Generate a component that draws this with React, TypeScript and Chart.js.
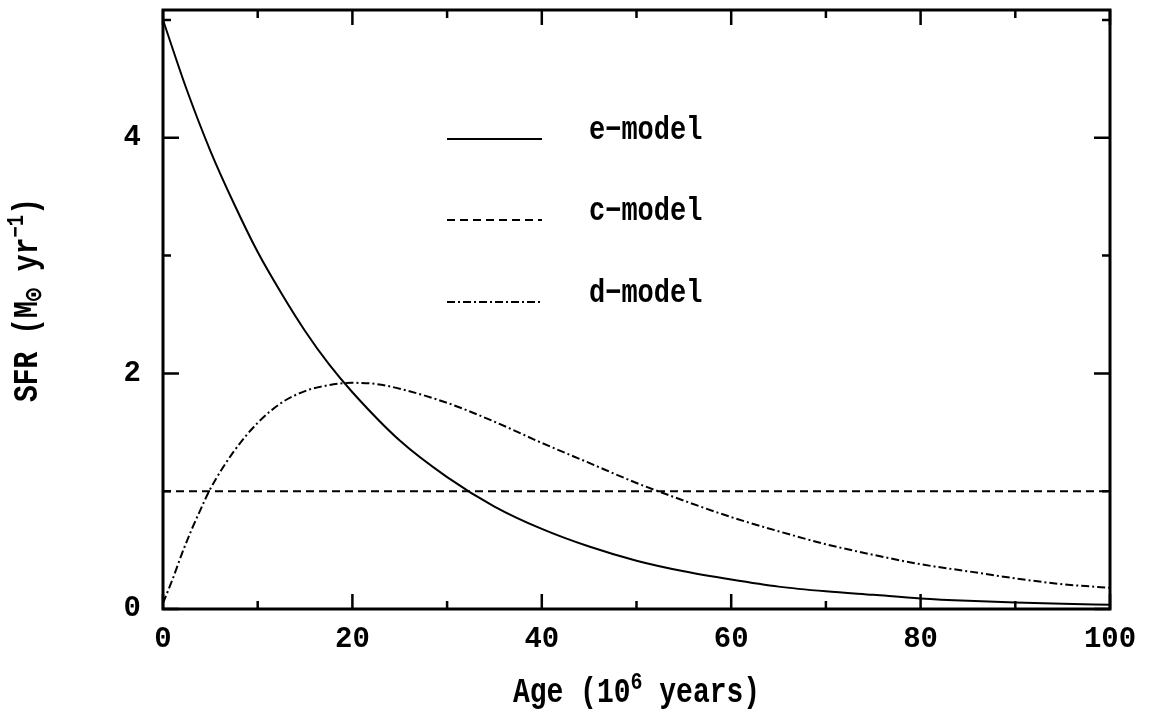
import React, { useEffect, useRef } from "react";
import { Chart, registerables } from "chart.js";

Chart.register(...registerables);

// ---- data ----
const eAges = [0, 2.5, 5, 7.5, 10, 12.5, 15, 17.5, 20, 25, 30, 35, 40, 45, 50, 55, 60, 65, 70, 75, 80, 85, 90, 95, 100];
const eModel = [5.0, 4.41, 3.89, 3.44, 3.03, 2.68, 2.36, 2.08, 1.84, 1.43, 1.12, 0.87, 0.68, 0.53, 0.41, 0.32, 0.25, 0.19, 0.15, 0.12, 0.09, 0.07, 0.056, 0.045, 0.036];

const cAges = [0, 100];
const cModel = [1.0, 1.0];

const dAges = [0, 1, 2, 3, 4, 5, 7.5, 10, 12.5, 15, 17.5, 20, 22.5, 25, 30, 35, 40, 45, 50, 55, 60, 65, 70, 75, 80, 85, 90, 95, 100];
const dModel = [0.05, 0.25, 0.47, 0.67, 0.85, 1.02, 1.34, 1.58, 1.75, 1.85, 1.90, 1.92, 1.91, 1.87, 1.75, 1.59, 1.41, 1.24, 1.07, 0.92, 0.78, 0.66, 0.55, 0.46, 0.38, 0.32, 0.26, 0.21, 0.18];

const seriesNames = ["e\u2212model", "c\u2212model", "d\u2212model"];

const xMajorTicks = [0, 20, 40, 60, 80, 100];
const xMinorTicks = [10, 30, 50, 70, 90];
const yMajorTicks = [0, 2, 4];
const yMinorTicks = [1, 3, 5];

const FONT = '"Liberation Mono", "DejaVu Sans Mono", "DejaVu Sans", monospace';
const STRETCH = 1.22;

type Part = { text: string; size: number; dy: number };

function drawRich(ctx: CanvasRenderingContext2D, parts: Part[], cx: number, baseline: number) {
  let total = 0;
  const widths: number[] = [];
  for (const p of parts) {
    ctx.font = `bold ${p.size}px ${FONT}`;
    const w = ctx.measureText(p.text).width;
    widths.push(w);
    total += w;
  }
  let x = cx - total / 2;
  ctx.save();
  ctx.translate(0, baseline);
  ctx.scale(1, STRETCH);
  ctx.textAlign = "left";
  ctx.textBaseline = "alphabetic";
  parts.forEach((p, i) => {
    ctx.font = `bold ${p.size}px ${FONT}`;
    ctx.fillText(p.text, x, p.dy / STRETCH);
    x += widths[i];
  });
  ctx.restore();
}

const framePlugin = {
  id: "frameAndDecor",
  afterDatasetsDraw(chart: any) {
    const { ctx, chartArea } = chart;
    const xs = chart.scales.x;
    const ys = chart.scales.y;
    const { left, right, top, bottom } = chartArea;
    ctx.save();
    ctx.strokeStyle = "#000";
    ctx.fillStyle = "#000";
    ctx.setLineDash([]);
    // frame
    ctx.lineWidth = 3;
    ctx.strokeRect(left, top, right - left, bottom - top);
    // ticks
    ctx.lineWidth = 2.5;
    const xt = (vals: number[], len: number) => {
      for (const v of vals) {
        const px = xs.getPixelForValue(v);
        ctx.beginPath();
        ctx.moveTo(px, bottom);
        ctx.lineTo(px, bottom - len);
        ctx.moveTo(px, top);
        ctx.lineTo(px, top + len);
        ctx.stroke();
      }
    };
    const yt = (vals: number[], len: number) => {
      for (const v of vals) {
        const py = ys.getPixelForValue(v);
        ctx.beginPath();
        ctx.moveTo(left, py);
        ctx.lineTo(left + len, py);
        ctx.moveTo(right, py);
        ctx.lineTo(right - len, py);
        ctx.stroke();
      }
    };
    xt(xMajorTicks, 15);
    xt(xMinorTicks, 8);
    yt(yMajorTicks, 16);
    yt(yMinorTicks, 8);

    // legend
    const legY = [139, 220, 302];
    chart.data.datasets.forEach((ds: any, i: number) => {
      ctx.lineWidth = 2;
      ctx.setLineDash(ds.borderDash || []);
      ctx.beginPath();
      ctx.moveTo(447, legY[i]);
      ctx.lineTo(542, legY[i]);
      ctx.stroke();
      ctx.setLineDash([]);
      ctx.save();
      ctx.translate(589, legY[i]);
      ctx.scale(1, STRETCH);
      ctx.font = `bold 27px ${FONT}`;
      ctx.textAlign = "left";
      ctx.textBaseline = "alphabetic";
      ctx.fillText(ds.label, 0, 0);
      ctx.restore();
    });

    // axis titles
    drawRich(
      ctx,
      [
        { text: "Age (10", size: 28, dy: 0 },
        { text: "6", size: 20, dy: -13 },
        { text: " years)", size: 28, dy: 0 },
      ],
      (left + right) / 2,
      702
    );
    ctx.save();
    ctx.translate(37, 300);
    ctx.rotate(-Math.PI / 2);
    drawRich(
      ctx,
      [
        { text: "SFR (M", size: 28, dy: 0 },
        { text: "\u2299", size: 22, dy: 5 },
        { text: " yr", size: 28, dy: 0 },
        { text: "\u22121", size: 19, dy: -14 },
        { text: ")", size: 28, dy: 0 },
      ],
      0,
      0
    );
    ctx.restore();
    ctx.restore();
  },
};

export default function App() {
  const ref = useRef<HTMLCanvasElement | null>(null);
  useEffect(() => {
    document.body.style.margin = "0";
    const canvas = ref.current;
    if (!canvas) return;
    const toPts = (xs: number[], ys: number[]) => xs.map((x, i) => ({ x, y: ys[i] }));
    const chart = new Chart(canvas, {
      type: "line",
      data: {
        datasets: [
          {
            label: seriesNames[0],
            data: toPts(eAges, eModel),
            borderColor: "#000",
            borderWidth: 2,
            pointRadius: 0,
            cubicInterpolationMode: "monotone",
            fill: false,
          },
          {
            label: seriesNames[1],
            data: toPts(cAges, cModel),
            borderColor: "#000",
            borderWidth: 2,
            borderDash: [8, 5],
            pointRadius: 0,
            fill: false,
          },
          {
            label: seriesNames[2],
            data: toPts(dAges, dModel),
            borderColor: "#000",
            borderWidth: 2,
            borderDash: [8, 3, 2, 3],
            pointRadius: 0,
            cubicInterpolationMode: "monotone",
            fill: false,
          },
        ],
      },
      options: {
        responsive: false,
        animation: false,
        devicePixelRatio: 1,
        layout: { padding: { top: 10, right: 41, left: 0, bottom: 0 } },
        plugins: { legend: { display: false }, tooltip: { enabled: false } },
        scales: {
          x: {
            type: "linear",
            min: 0,
            max: 100,
            afterFit: (s: any) => {
              s.height = 100;
              s.paddingLeft = 0;
              s.paddingRight = 0;
            },
            afterBuildTicks: (s: any) => {
              s.ticks = xMajorTicks.map((v) => ({ value: v }));
            },
            grid: { display: false, drawTicks: false },
            border: { display: false },
            ticks: {
              color: "#000",
              font: { family: FONT, size: 29, weight: "bold" },
              padding: 13,
              maxRotation: 0,
              autoSkip: false,
            },
          },
          y: {
            type: "linear",
            min: 0,
            max: 5.085,
            afterFit: (s: any) => {
              s.width = 163;
              s.paddingTop = 0;
              s.paddingBottom = 0;
            },
            afterBuildTicks: (s: any) => {
              s.ticks = yMajorTicks.map((v) => ({ value: v }));
            },
            grid: { display: false, drawTicks: false },
            border: { display: false },
            ticks: {
              color: "#000",
              font: { family: FONT, size: 29, weight: "bold" },
              padding: 22,
              autoSkip: false,
            },
          },
        },
      },
      plugins: [framePlugin],
    } as any);
    return () => chart.destroy();
  }, []);
  return (
    <div style={{ position: "absolute", left: 0, top: 0, width: 1151, height: 709, background: "#fff" }}>
      <canvas ref={ref} width={1151} height={709} style={{ display: "block" }} />
    </div>
  );
}
